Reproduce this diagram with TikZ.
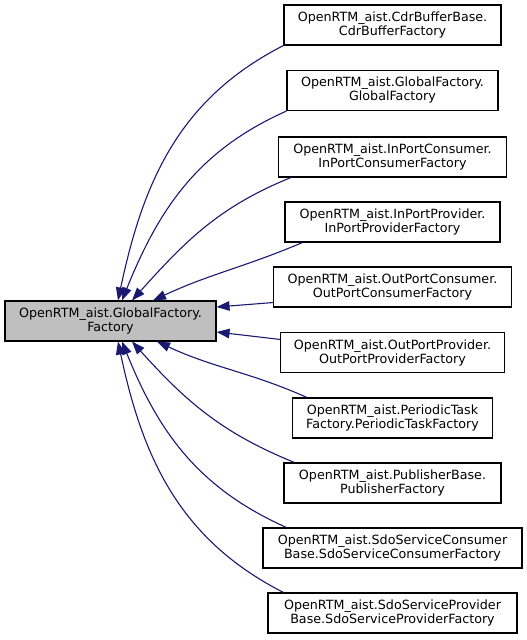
\documentclass[tikz,border=0pt]{standalone}
\usepackage{fontspec}
\setmainfont{DejaVu Sans}
\usetikzlibrary{arrows.meta}
\definecolor{edgeblue}{HTML}{191970}
\definecolor{parentgray}{HTML}{BFBFBF}

\begin{document}
\begin{tikzpicture}[
    x=1pt, y=1pt,
    cls/.style={rectangle, draw=black, line width=1.1pt, fill=white, minimum height=40pt, inner sep=0pt, align=center, font=\fontsize{12.7}{14}\selectfont},
    parentcls/.style={cls, fill=parentgray},
    derive/.style={draw=edgeblue, line width=1.1pt, {Triangle[length=13pt,width=9.5pt]}-}
]
\useasboundingbox (0,0) rectangle (527,640);

% Base class on the left
\node[parentcls, minimum width=211pt] (gf) at (110.5, 319) {OpenRTM\_aist.GlobalFactory.\\Factory};

% Derived factories, one column on the right
\node[cls, minimum width=217pt] (cdr) at (392.5, 615) {OpenRTM\_aist.CdrBufferBase.\\CdrBufferFactory};
\node[cls, minimum width=211pt] (glob) at (392.5, 549.5) {OpenRTM\_aist.GlobalFactory.\\GlobalFactory};
\node[cls, minimum width=228pt] (ipc) at (392.5, 483) {OpenRTM\_aist.InPortConsumer.\\InPortConsumerFactory};
\node[cls, minimum width=215pt] (ipp) at (392.5, 418) {OpenRTM\_aist.InPortProvider.\\InPortProviderFactory};
\node[cls, minimum width=238pt] (opc) at (392.5, 353) {OpenRTM\_aist.OutPortConsumer.\\OutPortConsumerFactory};
\node[cls, minimum width=224pt] (opp) at (392.5, 287.5) {OpenRTM\_aist.OutPortProvider.\\OutPortProviderFactory};
\node[cls, minimum width=200pt] (ptf) at (392.5, 222) {OpenRTM\_aist.PeriodicTask\\Factory.PeriodicTaskFactory};
\node[cls, minimum width=217pt] (pub) at (392.5, 157) {OpenRTM\_aist.PublisherBase.\\PublisherFactory};
\node[cls, minimum width=259pt] (sdoc) at (392.5, 92) {OpenRTM\_aist.SdoServiceConsumer\\Base.SdoServiceConsumerFactory};
\node[cls, minimum width=249pt] (sdop) at (392.5, 27) {OpenRTM\_aist.SdoServiceProvider\\Base.SdoServiceProviderFactory};

% Inheritance arrows, tips on the base class
% upper four
\draw[derive] ([xshift=7.5pt]gf.north) to[out=78, in=207] (cdr.south west);
\draw[derive] ([xshift=11.5pt]gf.north) to[out=68, in=204] (glob.south west);
\draw[derive] ([xshift=21.5pt]gf.north) to[out=48, in=202] ([xshift=13pt]ipc.south west);
\draw[derive] ([xshift=42.5pt]gf.north) to[out=25, in=203] ([xshift=18pt]ipp.south west);

% two straight ones
\draw[derive] ([yshift=14pt]gf.east) -- ([yshift=5pt]opc.south west);
\draw[derive] ([yshift=-11pt]gf.east) -- ([yshift=-7.5pt]opp.north west);

% lower four
\draw[derive] ([xshift=46.5pt]gf.south) to[out=-25, in=156] ([xshift=15pt]ptf.north west);
\draw[derive] ([xshift=21.5pt]gf.south) to[out=-48, in=158] ([xshift=11pt]pub.north west);
\draw[derive] ([xshift=11.5pt]gf.south) to[out=-68, in=156] ([xshift=24pt]sdoc.north west);
\draw[derive] ([xshift=7.5pt]gf.south) to[out=-78, in=153] ([xshift=16pt]sdop.north west);

\end{tikzpicture}
\end{document}
